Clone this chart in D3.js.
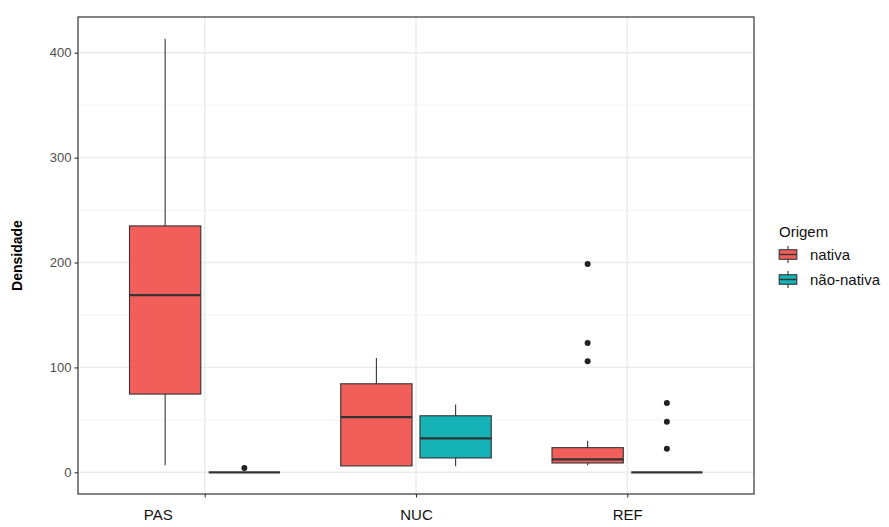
<!DOCTYPE html>
<html>
<head>
<meta charset="utf-8">
<script src="https://cdn.jsdelivr.net/npm/d3@7"></script>
<style>
  body { margin: 0; background: #fff; }
  svg { display: block; font-family: "Liberation Sans", Arial, Helvetica, sans-serif; }
</style>
</head>
<body>
<svg id="chart" width="889" height="527"></svg>
<script>
// Sites and origin groups
const categories = ["PAS", "NUC", "REF"];
const groups = ["nativa", "não-nativa"];
const groupColors = ["#F25F5B", "#15B3B5"];

// Box statistics per site, one array per origin group: [lower, q1, median, q3, upper]
const nativaStats = [
  [6.7, 74.6, 169, 234.9, 413.4],
  [6.1, 6.1, 52.7, 84.4, 109],
  [6.7, 8.9, 12.4, 23.5, 30.1]
];
const naoNativaStats = [
  [0, 0, 0, 0, 0],
  [5.7, 13.7, 32.3, 53.9, 64.7],
  [0, 0, 0, 0, 0]
];
// Outliers per site
const nativaOutliers = [[], [], [198.5, 123.3, 106]];
const naoNativaOutliers = [[4.2], [], [66, 48.2, 22.5]];

const yTicks = [0, 100, 200, 300, 400];
const yMinorTicks = [50, 150, 250, 350];

const boxes = [];
categories.forEach((c, i) => {
  [nativaStats, naoNativaStats].forEach((stats, g) => {
    const s = stats[i];
    boxes.push({
      cat: c, group: groups[g], color: groupColors[g],
      lower: s[0], q1: s[1], median: s[2], q3: s[3], upper: s[4],
      outliers: (g === 0 ? nativaOutliers : naoNativaOutliers)[i]
    });
  });
});

const svg = d3.select("#chart");
const panel = { left: 78, right: 754, top: 17, bottom: 494 };

// Continuous scale with 5% expansion; discrete axis with 0.6 unit padding
const allVals = boxes.flatMap(b => [b.lower, b.upper, ...b.outliers]);
const [vmin, vmax] = d3.extent(allVals);
const pad = (vmax - vmin) * 0.05;
const y = d3.scaleLinear().domain([vmin - pad, vmax + pad]).range([panel.bottom, panel.top]);

const x = d3.scalePoint().domain(categories)
  .range([panel.left, panel.right]).padding(0.6);
const unit = x.step();
const xGroup = d3.scaleBand().domain(groups)
  .range([-0.375 * unit, 0.375 * unit]);
const boxW = xGroup.bandwidth() * 0.9;

// Grid
const grid = svg.append("g");
grid.selectAll(".minor").data(yMinorTicks).join("line")
  .attr("x1", panel.left).attr("x2", panel.right)
  .attr("y1", d => y(d)).attr("y2", d => y(d))
  .attr("stroke", "#F2F2F2").attr("stroke-width", 1);
grid.selectAll(".major").data(yTicks).join("line")
  .attr("x1", panel.left).attr("x2", panel.right)
  .attr("y1", d => y(d)).attr("y2", d => y(d))
  .attr("stroke", "#EBEBEB").attr("stroke-width", 1.4);
grid.selectAll(".vmajor").data(categories).join("line")
  .attr("x1", d => x(d)).attr("x2", d => x(d))
  .attr("y1", panel.top).attr("y2", panel.bottom)
  .attr("stroke", "#EBEBEB").attr("stroke-width", 1.4);

// Boxplots
const gBoxes = svg.append("g");
boxes.forEach(b => {
  const cx = x(b.cat) + xGroup(b.group) + xGroup.bandwidth() / 2;
  const g = gBoxes.append("g");
  g.append("line").attr("x1", cx).attr("x2", cx)
    .attr("y1", y(b.upper)).attr("y2", y(b.q3))
    .attr("stroke", "#333").attr("stroke-width", 1.1);
  g.append("line").attr("x1", cx).attr("x2", cx)
    .attr("y1", y(b.q1)).attr("y2", y(b.lower))
    .attr("stroke", "#333").attr("stroke-width", 1.1);
  g.append("rect")
    .attr("x", cx - boxW / 2).attr("width", boxW)
    .attr("y", y(b.q3)).attr("height", Math.max(0, y(b.q1) - y(b.q3)))
    .attr("fill", b.color).attr("stroke", "#333").attr("stroke-width", 1.1);
  g.append("line")
    .attr("x1", cx - boxW / 2).attr("x2", cx + boxW / 2)
    .attr("y1", y(b.median)).attr("y2", y(b.median))
    .attr("stroke", "#333").attr("stroke-width", 2.2);
  g.selectAll("circle").data(b.outliers).join("circle")
    .attr("cx", cx).attr("cy", d => y(d)).attr("r", 3)
    .attr("fill", "#222");
});

// Panel border
svg.append("rect")
  .attr("x", panel.left).attr("y", panel.top)
  .attr("width", panel.right - panel.left).attr("height", panel.bottom - panel.top)
  .attr("fill", "none").attr("stroke", "#333").attr("stroke-width", 1.2);

// Axes
const yAxis = svg.append("g").attr("transform", `translate(${panel.left},0)`)
  .call(d3.axisLeft(y).tickValues(yTicks).tickSize(3.5).tickPadding(3));
yAxis.select(".domain").remove();
yAxis.selectAll("line").attr("stroke", "#333").attr("stroke-width", 1.1);
yAxis.selectAll("text").attr("fill", "#4D4D4D").style("font-size", "13px")
  .style("font-family", "'Liberation Sans', Arial, sans-serif");

const xAxis = svg.append("g").attr("transform", `translate(0,${panel.bottom})`)
  .call(d3.axisBottom(x).tickSize(3.5).tickPadding(12));
xAxis.select(".domain").remove();
xAxis.selectAll("line").attr("stroke", "#333").attr("stroke-width", 1.1);
xAxis.selectAll("text").attr("fill", "#111").style("font-size", "15px")
  .style("font-family", "'Liberation Sans', Arial, sans-serif")
  // the first site label sits under its nativa box
  .attr("dx", (d, i) => i === 0 ? -boxW * 0.66 : 0);

// Y axis title
svg.append("text")
  .attr("transform", `translate(22,${(panel.top + panel.bottom) / 2}) rotate(-90)`)
  .attr("text-anchor", "middle")
  .style("font-size", "14px").style("font-weight", "bold")
  .attr("fill", "#000").text("Densidade");

// Legend
const legend = svg.append("g").attr("transform", "translate(777,0)");
legend.append("text").attr("x", 2).attr("y", 237)
  .style("font-size", "15px").attr("fill", "#111").text("Origem");
const keyY = [245, 270];
groups.forEach((gname, i) => {
  const k = legend.append("g").attr("transform", `translate(0,${keyY[i]})`);
  const kw = 22, kh = 19;
  k.append("line").attr("x1", kw / 2).attr("x2", kw / 2)
    .attr("y1", kh * 0.05).attr("y2", kh * 0.95)
    .attr("stroke", "#333").attr("stroke-width", 1.1);
  k.append("rect").attr("x", kw * 0.1).attr("width", kw * 0.8)
    .attr("y", kh * 0.25).attr("height", kh * 0.5)
    .attr("fill", groupColors[i]).attr("stroke", "#333").attr("stroke-width", 1.1);
  k.append("line").attr("x1", kw * 0.1).attr("x2", kw * 0.9)
    .attr("y1", kh / 2).attr("y2", kh / 2)
    .attr("stroke", "#333").attr("stroke-width", 1.4);
  k.append("text").attr("x", kw + 11).attr("y", kh / 2 + 5)
    .style("font-size", "15px").attr("fill", "#111").text(gname);
});
</script>
</body>
</html>
